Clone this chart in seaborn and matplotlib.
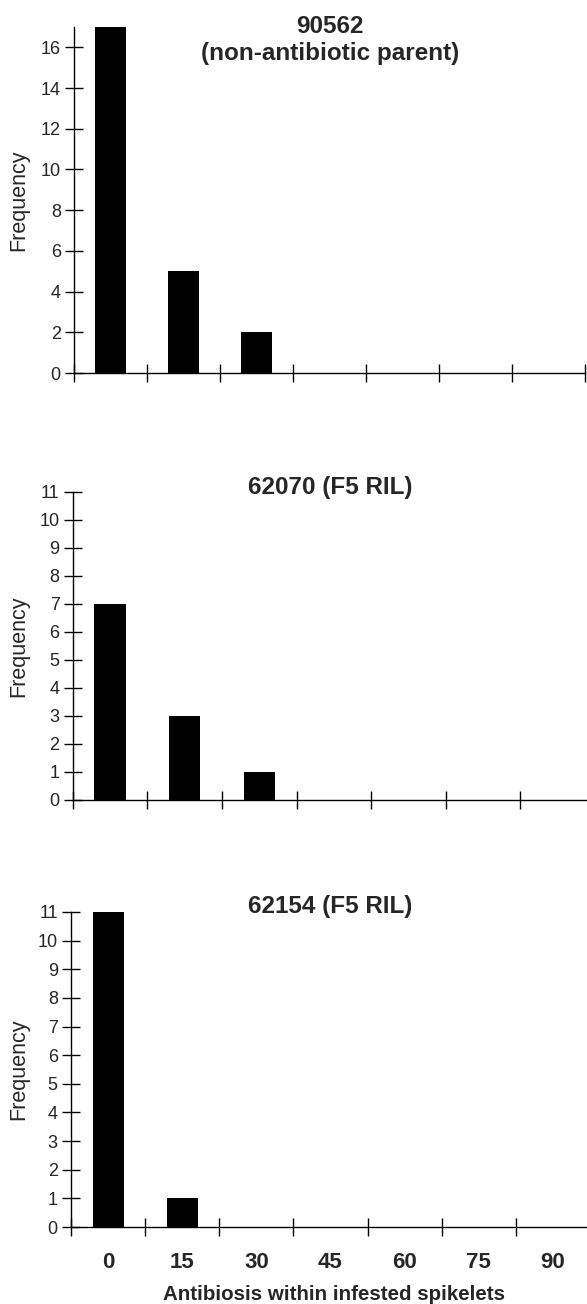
import matplotlib
matplotlib.use("Agg")
import matplotlib.pyplot as plt
import seaborn as sns

# ---- data ----
categories = ["0", "15", "30", "45", "60", "75", "90"]
freq_90562 = [17, 5, 2, 0, 0, 0, 0]
freq_62070 = [7, 3, 1, 0, 0, 0, 0]
freq_62154 = [11, 1, 0, 0, 0, 0, 0]
titles = ["90562\n(non-antibiotic parent)", "62070 (F5 RIL)", "62154 (F5 RIL)"]
y_max = [17, 11, 11]
y_step = [2, 1, 1]
x_label = "Antibiosis within infested spikelets"
y_label = "Frequency"

sns.set_style("ticks")
plt.rcParams["font.family"] = ["Liberation Sans", "DejaVu Sans"]

W, H = 587, 1304
fig = plt.figure(figsize=(W / 100, H / 100), dpi=100)

# axes boxes in pixels: left, right, top, bottom
boxes = [(74, 585, 27, 373), (72.7, 595, 492, 800), (71, 590, 912, 1227)]
title_y = [0.962, 1.013, 1.016]
series = [freq_90562, freq_62070, freq_62154]

for i, (vals, box) in enumerate(zip(series, boxes)):
    l, r, t, b = box
    ax = fig.add_axes([l / W, 1 - b / H, (r - l) / W, (b - t) / H])
    sns.barplot(x=categories, y=vals, color="black", saturation=1, width=0.42,
                ax=ax, edgecolor="black", linewidth=0)
    ax.set_xlim(-0.5, len(categories) - 0.5)
    ax.set_ylim(0, y_max[i])
    ax.set_yticks(list(range(0, y_max[i] + 1, y_step[i])))
    ax.set_xticks(range(len(categories)))
    ax.set_xticks([k - 0.5 for k in range(len(categories) + 1)], minor=True)
    if i == 2:
        ax.set_xticklabels(categories, fontweight="bold", fontsize=16)
        ax.set_xlabel(x_label, fontweight="bold", fontsize=14.8)
        ax.xaxis.set_label_coords(0.506, -0.184)
    else:
        ax.set_xticklabels([])
        ax.set_xlabel("")
    ax.tick_params(axis="x", which="major", length=0, pad=18)
    ax.tick_params(axis="x", which="minor", direction="inout", length=13,
                   width=1, color="black")
    ax.tick_params(axis="y", direction="inout", length=13, width=1,
                   color="black", labelsize=13, pad=3)
    for s in ["top", "right"]:
        ax.spines[s].set_visible(False)
    for s in ["left", "bottom"]:
        ax.spines[s].set_color("black")
        ax.spines[s].set_linewidth(1)
    ax.set_ylabel(y_label, fontsize=15.5)
    ax.yaxis.set_label_coords((29 - l) / (r - l), 0.5)
    ax.text(0.5 + (330 - (l + r) / 2) / (r - l), title_y[i], titles[i],
            transform=ax.transAxes, ha="center", va="center",
            fontweight="bold", fontsize=17.5, linespacing=1.2)

fig.savefig("out.png", dpi=100)
